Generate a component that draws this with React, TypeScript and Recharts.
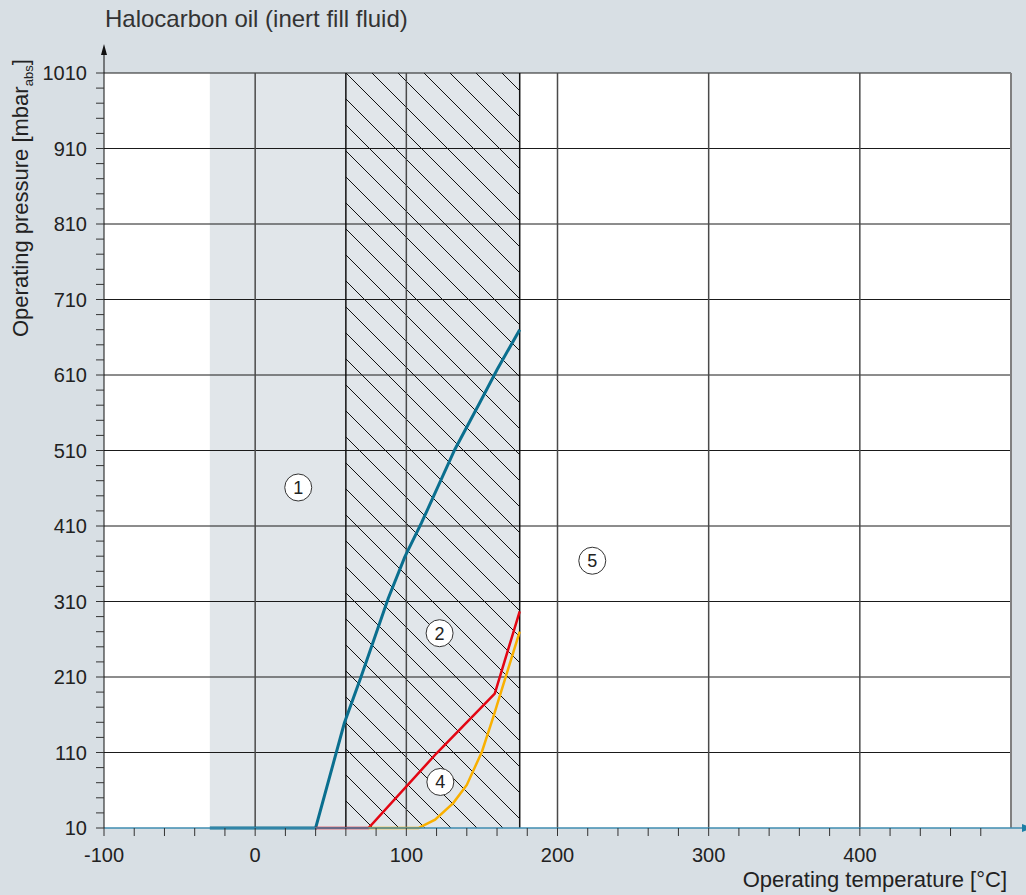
import {
  ComposedChart,
  Line,
  XAxis,
  YAxis,
  ReferenceArea,
  ReferenceLine,
  ReferenceDot,
} from 'recharts';

// axis ticks (minor every 20, labelled majors)
const xTicks = [-100, -80, -60, -40, -20, 0, 20, 40, 60, 80, 100, 120, 140, 160, 180, 200, 220, 240, 260, 280, 300, 320, 340, 360, 380, 400, 420, 440, 460, 480];
const xMajor = [-100, 0, 100, 200, 300, 400];
const yTicks = [10, 30, 50, 70, 90, 110, 130, 150, 170, 190, 210, 230, 250, 270, 290, 310, 330, 350, 370, 390, 410, 430, 450, 470, 490, 510, 530, 550, 570, 590, 610, 630, 650, 670, 690, 710, 730, 750, 770, 790, 810, 830, 850, 870, 890, 910, 930, 950, 970, 990, 1010];
const yMajor = [10, 110, 210, 310, 410, 510, 610, 710, 810, 910, 1010];

// regions (temperature, °C)
const permittedRange = [-30, 175];
const hatchedRange = [60, 175];

// boundary curves: t = temperature [°C], p = pressure [mbar abs]
const blueLine = [
  { t: -30, p: 10 },
  { t: 40, p: 10 },
  { t: 59, p: 149 },
  { t: 70, p: 210 },
  { t: 88, p: 314 },
  { t: 99, p: 369 },
  { t: 110, p: 414 },
  { t: 132, p: 511 },
  { t: 149, p: 575 },
  { t: 160, p: 617 },
  { t: 175, p: 670 },
];
const redLine = [
  { t: 40, p: 10 },
  { t: 75, p: 10 },
  { t: 120, p: 109 },
  { t: 158.5, p: 188 },
  { t: 175, p: 297 },
];
const orangeLine = [
  { t: 75, p: 10 },
  { t: 108, p: 10 },
  { t: 119, p: 21 },
  { t: 131, p: 43 },
  { t: 140, p: 67 },
  { t: 150, p: 111 },
  { t: 157.5, p: 157 },
  { t: 166.5, p: 215 },
  { t: 175, p: 270 },
];

// numbered region markers
const markers = [
  { id: '1', t: 28.5, p: 461 },
  { id: '2', t: 122, p: 268 },
  { id: '4', t: 122.5, p: 71 },
  { id: '5', t: 223, p: 364 },
];

const FONT = '"Liberation Sans", Arial, sans-serif';
const BG = '#d8dfe4';

export default function App() {
  return (
    <div style={{ position: 'absolute', left: 0, top: 0, width: 1026, height: 895, background: BG, fontFamily: FONT }}>
      <ComposedChart
        width={1026}
        height={895}
        margin={{ top: 73, right: 15, bottom: 37, left: 44 }}
        style={{ position: 'absolute', left: 0, top: 0 }}
      >
        <defs>
          <pattern id="hatch" patternUnits="userSpaceOnUse" x={13} y={0} width={26} height={26}>
            <rect x={0} y={0} width={26} height={26} fill="#e1e6ea" />
            <path d="M-2,-2 L28,28" stroke="#111" strokeWidth={1} />
          </pattern>
        </defs>
        <XAxis
          type="number"
          dataKey="t"
          domain={[-100, 500]}
          ticks={xTicks}
          interval={0}
          height={30}
          tickSize={8}
          tickMargin={12}
          tickFormatter={(v: number) => (xMajor.includes(v) ? String(v) : '')}
          tick={{ fontSize: 20, fill: '#222', fontFamily: FONT }}
          axisLine={{ stroke: '#3f8db0', strokeWidth: 1.5 }}
          tickLine={{ stroke: '#333' }}
        />
        <YAxis
          type="number"
          domain={[10, 1010]}
          ticks={yTicks}
          interval={0}
          width={60}
          tickSize={8}
          tickMargin={9}
          tickFormatter={(v: number) => (yMajor.includes(v) ? String(v) : '')}
          tick={{ fontSize: 20, fill: '#222', fontFamily: FONT }}
          axisLine={{ stroke: '#111' }}
          tickLine={{ stroke: '#333' }}
        />
        <ReferenceArea x1={-100} x2={500} y1={10} y2={1010} fill="#ffffff" fillOpacity={1} stroke="none" />
        <ReferenceArea x1={permittedRange[0]} x2={permittedRange[1]} y1={10} y2={1010} fill="#e1e6ea" fillOpacity={1} stroke="none" />
        <ReferenceArea x1={hatchedRange[0]} x2={hatchedRange[1]} y1={10} y2={1010} fill="url(#hatch)" fillOpacity={1} stroke="none" />
        {yMajor.slice(1).map((v) => (
          <ReferenceLine key={'h' + v} y={v} stroke="#1a1a1a" strokeWidth={1} />
        ))}
        {xMajor.slice(1).map((v) => (
          <ReferenceLine key={'v' + v} x={v} stroke="#4a4a4a" strokeWidth={1.5} />
        ))}
        <ReferenceLine x={hatchedRange[0]} stroke="#111" strokeWidth={1.5} />
        <ReferenceLine x={hatchedRange[1]} stroke="#111" strokeWidth={1.5} />
        <ReferenceLine x={500} stroke="#808080" strokeWidth={2} />
        <Line data={blueLine} dataKey="p" type="linear" stroke="#0a6f8f" strokeWidth={3} dot={false} isAnimationActive={false} />
        <Line data={redLine} dataKey="p" type="linear" stroke="#e30613" strokeWidth={2.5} dot={false} isAnimationActive={false} />
        <Line data={orangeLine} dataKey="p" type="linear" stroke="#f9b000" strokeWidth={2.5} dot={false} isAnimationActive={false} />
        {markers.map((m) => (
          <ReferenceDot
            key={m.id}
            x={m.t}
            y={m.p}
            r={13.5}
            fill="#fff"
            stroke="#333"
            strokeWidth={1}
            ifOverflow="visible"
            label={{ value: m.id, position: 'center', fontSize: 18, fill: '#222', fontFamily: FONT }}
          />
        ))}
      </ComposedChart>
      <svg width={1026} height={895} style={{ position: 'absolute', left: 0, top: 0, pointerEvents: 'none' }}>
        <text x={105} y={27} fontSize={24} fill="#333" fontFamily={FONT}>Halocarbon oil (inert fill fluid)</text>
        <line x1={104} y1={73} x2={104} y2={52} stroke="#111" strokeWidth={1} />
        <path d="M104,44 L101,55 L107,55 Z" fill="#111" />
        <line x1={1011} y1={828} x2={1026} y2={828} stroke="#3f8db0" strokeWidth={1.5} />
        <path d="M1032,828 L1022,824 L1022,832 Z" fill="#1d7fa6" />
        <text x={1007} y={887} fontSize={22} fill="#222" fontFamily={FONT} textAnchor="end">Operating temperature [°C]</text>
        <text x={28} y={337} fontSize={22} fill="#222" fontFamily={FONT} transform="rotate(-90 28 337)">
          Operating pressure [mbar<tspan fontSize={13} dy={5}>abs</tspan><tspan dy={-5}>]</tspan>
        </text>
      </svg>
    </div>
  );
}
